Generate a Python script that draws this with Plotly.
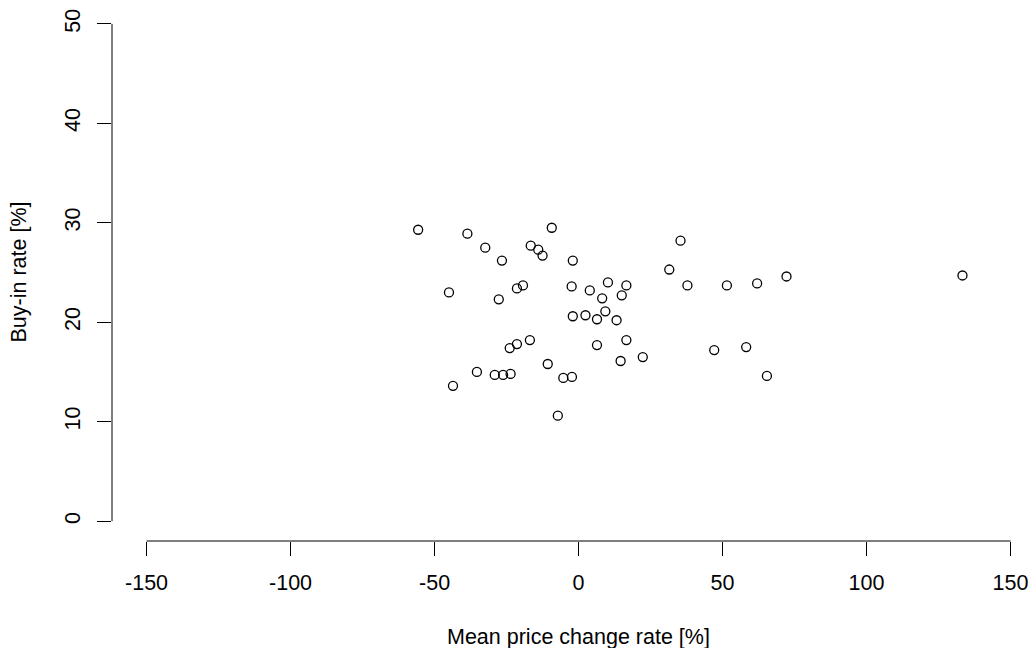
import plotly.graph_objects as go

# Data
price_change = [-55.7, -38.6, -9.3, -32.4, -16.6, -14.0, -12.5, -26.6, -2.0, 35.4,
                31.5, 37.8, -45.0, -27.7, -21.4, -19.3, -2.4, 3.9, 10.2, 16.6,
                8.2, 15.0, -2.0, 2.4, 6.4, 9.3, 13.2, -16.9, -21.4, -23.9,
                6.4, 16.6, 22.3, 14.6, -10.7, -35.3, -29.1, -26.2, -23.6, -5.3,
                -2.3, -43.6, -7.2, 51.5, 62.0, 72.2, 133.3, 47.1, 58.2, 65.4]
buy_in_rate = [29.3, 28.9, 29.5, 27.5, 27.7, 27.3, 26.7, 26.2, 26.2, 28.2,
               25.3, 23.7, 23.0, 22.3, 23.4, 23.7, 23.6, 23.2, 24.0, 23.7,
               22.4, 22.7, 20.6, 20.7, 20.3, 21.1, 20.2, 18.2, 17.8, 17.4,
               17.7, 18.2, 16.5, 16.1, 15.8, 15.0, 14.7, 14.7, 14.8, 14.4,
               14.5, 13.6, 10.6, 23.7, 23.9, 24.6, 24.7, 17.2, 17.5, 14.6]

x_ticks = [-150, -100, -50, 0, 50, 100, 150]
y_ticks = [0, 10, 20, 30, 40, 50]
x_title = "Mean price change rate [%]"
y_title = "Buy-in rate [%]"

FONT = "Liberation Sans, Arial, sans-serif"
FS = 21.5

# R-style axis range (4% padding)
xpad = (max(x_ticks) - min(x_ticks)) * 0.04
ypad = (max(y_ticks) - min(y_ticks)) * 0.04
x_lo = min(x_ticks) - xpad
W, H = 1033, 648
ML, MR, MT, MB = 112, 0, 4, 107
px_per_unit = 2.88
x_hi = x_lo + (W - ML - MR) / px_per_unit

fig = go.Figure()
fig.add_trace(go.Scatter(
    x=price_change, y=buy_in_rate, mode="markers",
    marker=dict(symbol="circle-open", size=9, color="black",
                line=dict(color="black", width=1.3)),
    showlegend=False, hoverinfo="skip"))

axis_common = dict(showgrid=False, zeroline=False, showline=False,
                   ticks="outside", ticklen=14, tickwidth=1, tickcolor="black",
                   ticklabelstandoff=8,
                   tickfont=dict(family=FONT, size=FS, color="black"))

fig.update_xaxes(range=[x_lo, x_hi], tickmode="array", tickvals=x_ticks,
                 ticktext=[str(v) for v in x_ticks], **axis_common)
fig.update_yaxes(range=[min(y_ticks) - ypad, max(y_ticks) + ypad], tickmode="array",
                 tickvals=y_ticks, ticktext=[str(v) for v in y_ticks],
                 tickangle=-90, **axis_common)

# R-style axis lines spanning only the tick range
fig.add_shape(type="line", xref="x", yref="paper", x0=min(x_ticks), x1=max(x_ticks),
              y0=0, y1=0, line=dict(color="black", width=1))
fig.add_shape(type="line", xref="paper", yref="y", x0=0, x1=0,
              y0=min(y_ticks), y1=max(y_ticks), line=dict(color="black", width=1))

fig.add_annotation(text=x_title, xref="x", yref="paper", x=0, y=0,
                   yanchor="middle", xanchor="center", yshift=-96, showarrow=False,
                   font=dict(family=FONT, size=FS, color="black"))
fig.add_annotation(text=y_title, xref="paper", yref="paper", x=0, y=0.5,
                   xanchor="center", yanchor="middle", xshift=-94, textangle=-90,
                   showarrow=False, font=dict(family=FONT, size=FS, color="black"))

fig.update_layout(width=W, height=H, margin=dict(l=ML, r=MR, t=MT, b=MB),
                  plot_bgcolor="white", paper_bgcolor="white")

fig.write_html("out.html")
